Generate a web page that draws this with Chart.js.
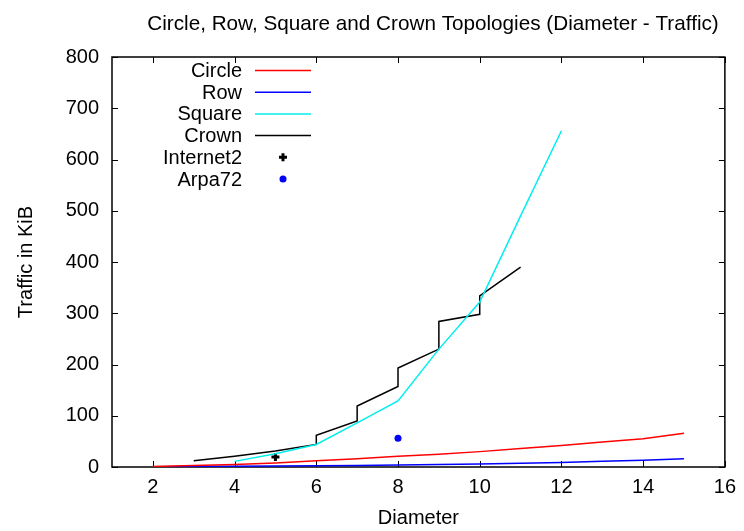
<!DOCTYPE html>
<html>
<head>
<meta charset="utf-8">
<script src="https://cdn.jsdelivr.net/npm/chart.js@4/dist/chart.umd.min.js"></script>
<style>
  html, body { margin: 0; padding: 0; background: #fff; }
  #wrap { width: 744px; height: 531px; }
</style>
</head>
<body>
<div id="wrap"><canvas id="c" width="744" height="531"></canvas></div>
<script>
// Diameter values for the Circle and Row topologies
const diameters = [2, 3, 4, 5, 6, 7, 8, 9, 10, 11, 12, 13, 14, 15];
const circleTraffic = [1, 3, 5, 8, 12, 16, 21, 25, 30, 36, 42, 49, 55, 66];
const rowTraffic = [0.5, 1, 1.5, 2, 2.5, 3, 4, 5, 6, 7.5, 9, 11, 13, 16];

// Square topology
const squareDiameters = [4, 5, 6, 7, 8, 9, 10, 11, 12];
const squareTraffic = [11, 26, 44, 86, 129, 230, 322, 490, 656];

// Crown topology (two measurements per diameter from 6 to 10)
const crownDiameters = [3, 4, 5, 6, 6, 7, 7, 8, 8, 9, 9, 10, 10, 11];
const crownTraffic = [12, 21, 31, 44, 62, 90, 119, 157, 193, 230, 284, 298, 334, 390];

// Real networks
const internet2Diameter = [5];
const internet2Traffic = [19.5];
const arpa72Diameter = [8];
const arpa72Traffic = [56];

// Axis tick values
const xTickValues = [2, 4, 6, 8, 10, 12, 14, 16];
const yTickValues = [0, 100, 200, 300, 400, 500, 600, 700, 800];

const FONT = '"Liberation Sans", Arial, Helvetica, sans-serif';
const zip = (xs, ys) => xs.map((x, i) => ({ x, y: ys[i] }));

Chart.defaults.color = '#000';
Chart.defaults.font.family = FONT;

// Plot frame with inward tick marks on all four sides
const framePlugin = {
  id: 'frame',
  beforeDatasetsDraw(chart) {
    const { ctx, chartArea: a, scales: { x, y } } = chart;
    const len = 6;
    ctx.save();
    ctx.strokeStyle = '#000';
    ctx.lineWidth = 1;
    ctx.beginPath();
    x.ticks.forEach(t => {
      const px = Math.round(x.getPixelForValue(t.value)) + 0.5;
      ctx.moveTo(px, a.bottom); ctx.lineTo(px, a.bottom - len);
      ctx.moveTo(px, a.top); ctx.lineTo(px, a.top + len);
    });
    y.ticks.forEach(t => {
      const py = Math.round(y.getPixelForValue(t.value)) + 0.5;
      ctx.moveTo(a.left, py); ctx.lineTo(a.left + len, py);
      ctx.moveTo(a.right, py); ctx.lineTo(a.right - len, py);
    });
    ctx.stroke();
    ctx.lineWidth = 1.5;
    ctx.strokeRect(a.left, a.top, a.right - a.left, a.bottom - a.top);
    ctx.restore();
  }
};

// Chart heading
const headingPlugin = {
  id: 'heading',
  afterDraw(chart) {
    const { ctx } = chart;
    ctx.save();
    ctx.fillStyle = '#000';
    ctx.font = '20.7px ' + FONT;
    ctx.textAlign = 'center';
    ctx.textBaseline = 'middle';
    ctx.fillText('Circle, Row, Square and Crown Topologies (Diameter - Traffic)', 433, 24);
    ctx.restore();
  }
};

// Key in the upper-left corner: right-aligned names, sample to the right
const keyPlugin = {
  id: 'key',
  afterDraw(chart) {
    const { ctx } = chart;
    const textRight = 242, sampleLeft = 255, sampleRight = 311, top = 70.5, step = 21.7;
    ctx.save();
    ctx.font = '20px ' + FONT;
    ctx.textAlign = 'right';
    ctx.textBaseline = 'middle';
    chart.data.datasets.forEach((ds, i) => {
      const cy = top + i * step;
      ctx.fillStyle = '#000';
      ctx.fillText(ds.label, textRight, cy + 1);
      if (ds.showLine === false) {
        ctx.fillStyle = ds.pointBackgroundColor;
        ctx.strokeStyle = ds.pointBorderColor;
        ctx.lineWidth = ds.pointBorderWidth;
        Chart.helpers.drawPoint(ctx, {
          pointStyle: ds.pointStyle, radius: ds.pointRadius, rotation: 0,
          borderWidth: ds.pointBorderWidth
        }, (sampleLeft + sampleRight) / 2, cy);
      } else {
        ctx.strokeStyle = ds.borderColor;
        ctx.lineWidth = ds.borderWidth;
        ctx.beginPath();
        ctx.moveTo(sampleLeft, cy); ctx.lineTo(sampleRight, cy);
        ctx.stroke();
      }
    });
    ctx.restore();
  }
};

const lineSet = (label, data, color) => ({
  label, data, borderColor: color, backgroundColor: color,
  borderWidth: 1.5, pointRadius: 0, pointHoverRadius: 0, tension: 0, fill: false
});

const pointSet = (label, data, color, style, radius, bw) => ({
  label, data, showLine: false, pointStyle: style, pointRadius: radius,
  pointBackgroundColor: color, pointBorderColor: color, pointBorderWidth: bw,
  borderColor: color, backgroundColor: color
});

new Chart(document.getElementById('c'), {
  type: 'line',
  data: {
    datasets: [
      lineSet('Circle', zip(diameters, circleTraffic), '#ff0000'),
      lineSet('Row', zip(diameters, rowTraffic), '#0000ff'),
      lineSet('Square', zip(squareDiameters, squareTraffic), '#00eeee'),
      lineSet('Crown', zip(crownDiameters, crownTraffic), '#000000'),
      pointSet('Internet2', zip(internet2Diameter, internet2Traffic), '#000000', 'cross', 4, 3),
      pointSet('Arpa72', zip(arpa72Diameter, arpa72Traffic), '#0000ff', 'circle', 3.5, 0)
    ]
  },
  options: {
    responsive: false,
    animation: false,
    events: [],
    layout: { padding: { top: 57, right: 18, bottom: 0, left: 0 } },
    plugins: { legend: { display: false }, title: { display: false }, tooltip: { enabled: false } },
    scales: {
      x: {
        type: 'linear', min: 1, max: 16,
        afterBuildTicks: s => { s.ticks = xTickValues.map(v => ({ value: v })); },
        afterFit: s => { s.height = 64; },
        grid: { display: false, drawTicks: false },
        border: { display: false },
        ticks: { font: { size: 20 }, padding: 8, maxRotation: 0, autoSkip: false },
        title: { display: true, text: 'Diameter', font: { size: 20 }, padding: { top: 0, bottom: 1 } }
      },
      y: {
        type: 'linear', min: 0, max: 800,
        afterBuildTicks: s => { s.ticks = yTickValues.map(v => ({ value: v })); },
        afterFit: s => { s.width = 112; },
        grid: { display: false, drawTicks: false },
        border: { display: false },
        ticks: { font: { size: 20 }, padding: 13, autoSkip: false },
        title: { display: true, text: 'Traffic in KiB', font: { size: 20 }, padding: { top: 14, bottom: 0 } }
      }
    }
  },
  plugins: [framePlugin, headingPlugin, keyPlugin]
});
</script>
</body>
</html>
